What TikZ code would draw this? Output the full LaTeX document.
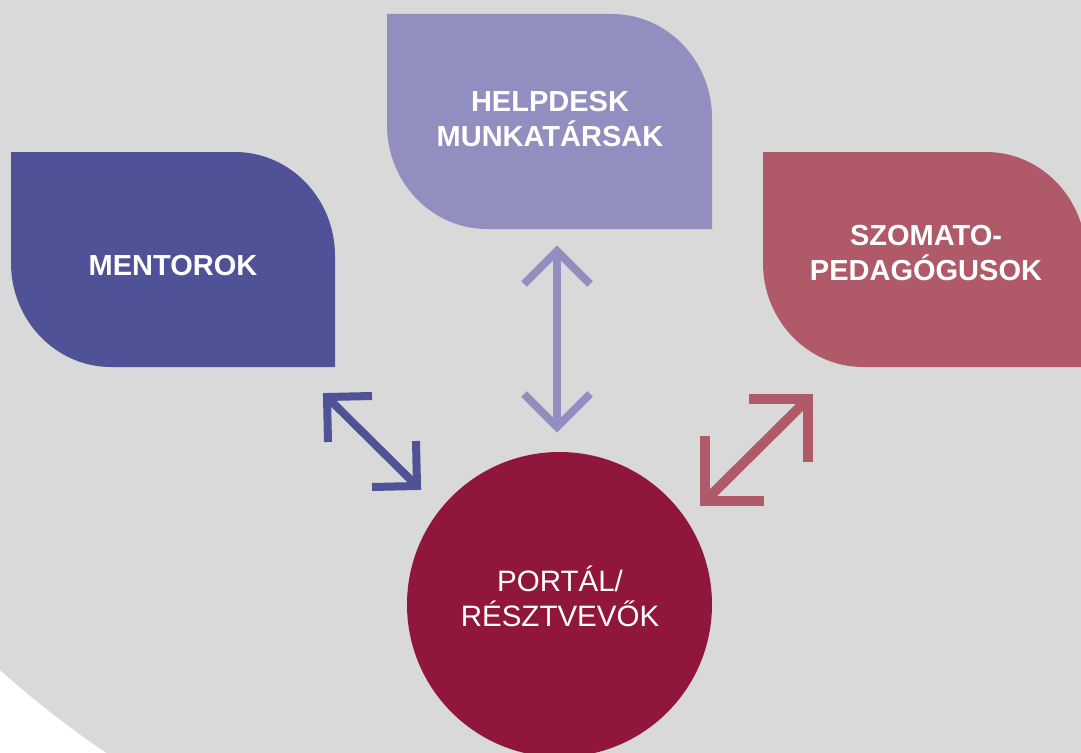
\documentclass[tikz,border=0pt]{standalone}
\usepackage{fontspec}
\setmainfont{Liberation Sans}
\usetikzlibrary{calc}
\definecolor{bggray}{HTML}{D9D9D9}
\definecolor{mentcol}{HTML}{4F5296}
\definecolor{helpcol}{HTML}{928EBF}
\definecolor{szomcol}{HTML}{B05A69}
\definecolor{portcol}{HTML}{91163B}
\tikzset{
  boxtext/.style={text=white, font=\bfseries\fontsize{29}{35}\selectfont, align=center, inner sep=0pt},
  circtext/.style={text=white, font=\fontsize{29.5}{35}\selectfont, align=center, inner sep=0pt},
  arr/.style={line width=8pt, line cap=butt, line join=miter},
  thickarr/.style={line width=10pt, line cap=butt, line join=miter},
}
\begin{document}
\begin{tikzpicture}[x=1pt,y=-1pt]
\useasboundingbox (0,0) rectangle (1081,752);
\clip (0,0) rectangle (1081,752);
\fill[white] (0,0) rectangle (1081,752);
\fill[bggray] (666,-76) circle (1000);
% leaf boxes
\fill[mentcol] (11,152) -- (235,152) .. controls (290.2,152) and (335,198.6) .. (335,256) -- (335,367) -- (111,367) .. controls (55.8,367) and (11,320.4) .. (11,263) -- cycle;
\fill[helpcol] (387,14) -- (612,14) .. controls (667.2,14) and (712,60.6) .. (712,118) -- (712,229) -- (487,229) .. controls (431.8,229) and (387,182.4) .. (387,125) -- cycle;
\fill[szomcol] (763,152) -- (986,152) .. controls (1041.2,152) and (1086,198.6) .. (1086,256) -- (1086,367) -- (863,367) .. controls (807.8,367) and (763,320.4) .. (763,263) -- cycle;
% texts
\node[boxtext, anchor=base] (mentorok) at (173,275) {MENTOROK};
\node[boxtext] (helpdesk) at (550,119.5) {HELPDESK\\MUNKATÁRSAK};
\node[boxtext] (szomato) at (926,253.5) {SZOMATO-\\PEDAGÓGUSOK};
% portal circle
\node[circle, fill=portcol, minimum size=305pt, inner sep=0pt] (portal) at (559.5,604.5) {};
\node[circtext] (portaltext) at (560,596) {PORTÁL/\\RÉSZTVEVŐK};
% arrows
\coordinate (v1) at (557,251);
\coordinate (v2) at (557,427);
\draw[arr, helpcol] (v1) -- (v2);
\draw[arr, helpcol] ($(v1)+(-33,33)$) -- (v1) -- ($(v1)+(33,33)$);
\draw[arr, helpcol] ($(v2)+(-33,-33)$) -- (v2) -- ($(v2)+(33,-33)$);
\coordinate (m1) at (327,397);
\coordinate (m2) at (417,486);
\draw[arr, mentcol] (m1) -- (m2);
\draw[arr, mentcol] ($(m1)+(45,-1)$) -- (m1) -- ($(m1)+(1,45)$);
\draw[arr, mentcol] ($(m2)+(-45,1)$) -- (m2) -- ($(m2)+(-1,-45)$);
\coordinate (r1) at (808,399);
\coordinate (r2) at (705,501);
\draw[thickarr, szomcol] (r1) -- (r2);
\draw[thickarr, szomcol] ($(r1)+(-59,0)$) -- (r1) -- ($(r1)+(0,63)$);
\draw[thickarr, szomcol] ($(r2)+(0,-65)$) -- (r2) -- ($(r2)+(59,0)$);
\end{tikzpicture}
\end{document}
